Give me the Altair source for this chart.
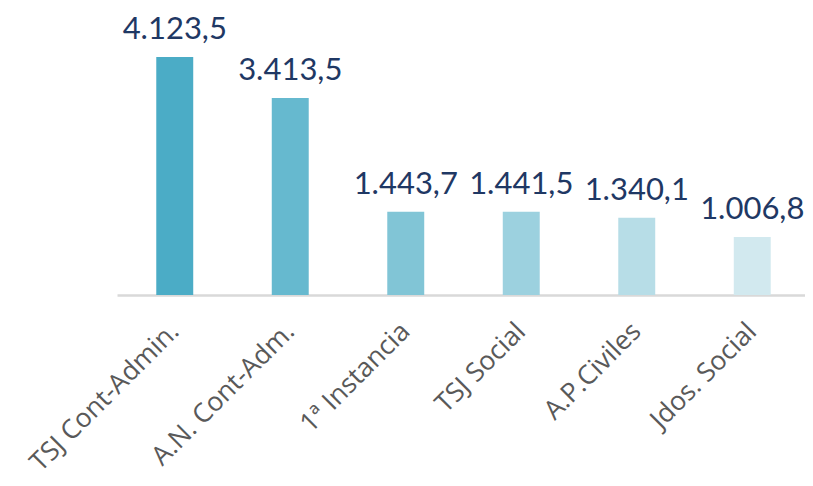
import altair as alt
import pandas as pd

categories = ["TSJ Cont-Admin.", "A.N. Cont-Adm.", "1ª Instancia", "TSJ Social", "A.P.Civiles", "Jdos. Social"]
values = [4123.5, 3413.5, 1443.7, 1441.5, 1340.1, 1006.8]
labels = ["4.123,5", "3.413,5", "1.443,7", "1.441,5", "1.340,1", "1.006,8"]
colors = ["#4BACC6", "#66B9CF", "#81C5D6", "#9CD1DF", "#B7DDE7", "#D2E9EF"]

df = pd.DataFrame({"cat": categories, "val": values, "lab": labels, "col": colors})

x = alt.X("cat:N", sort=categories, title=None,
          scale=alt.Scale(paddingInner=0.68, paddingOuter=0.34, range=[0, 693]))
y = alt.Y("val:Q", scale=alt.Scale(domain=[0, 4800], nice=False), axis=None, title=None)

bars = alt.Chart(df).mark_bar().encode(x=x, y=y, color=alt.Color("col:N", scale=None))
text = alt.Chart(df).mark_text(dy=-18, baseline="alphabetic", align="center",
                               fontSize=31, font="Lato", color="#1F3864").encode(
    x=alt.X("cat:N", sort=categories), y="val:Q", text="lab:N")

chart = (bars + text).properties(
    width=688, height=277,
    autosize=alt.AutoSizeParams(type="none"),
    padding={"left": 109, "top": 10, "right": 0, "bottom": 183},
).configure_view(stroke=None).configure_axisX(
    labelAngle=-45, labelAlign="right", labelBaseline="middle",
    labelPadding=32, labelFontSize=26.5, labelFont="Open Sans",
    labelColor="#595959", ticks=False, domainColor="#D9D9D9",
    domainWidth=2.5, labelLimit=300, grid=False,
)

chart.save("out.html", embed_options={"renderer": "svg", "actions": False})
